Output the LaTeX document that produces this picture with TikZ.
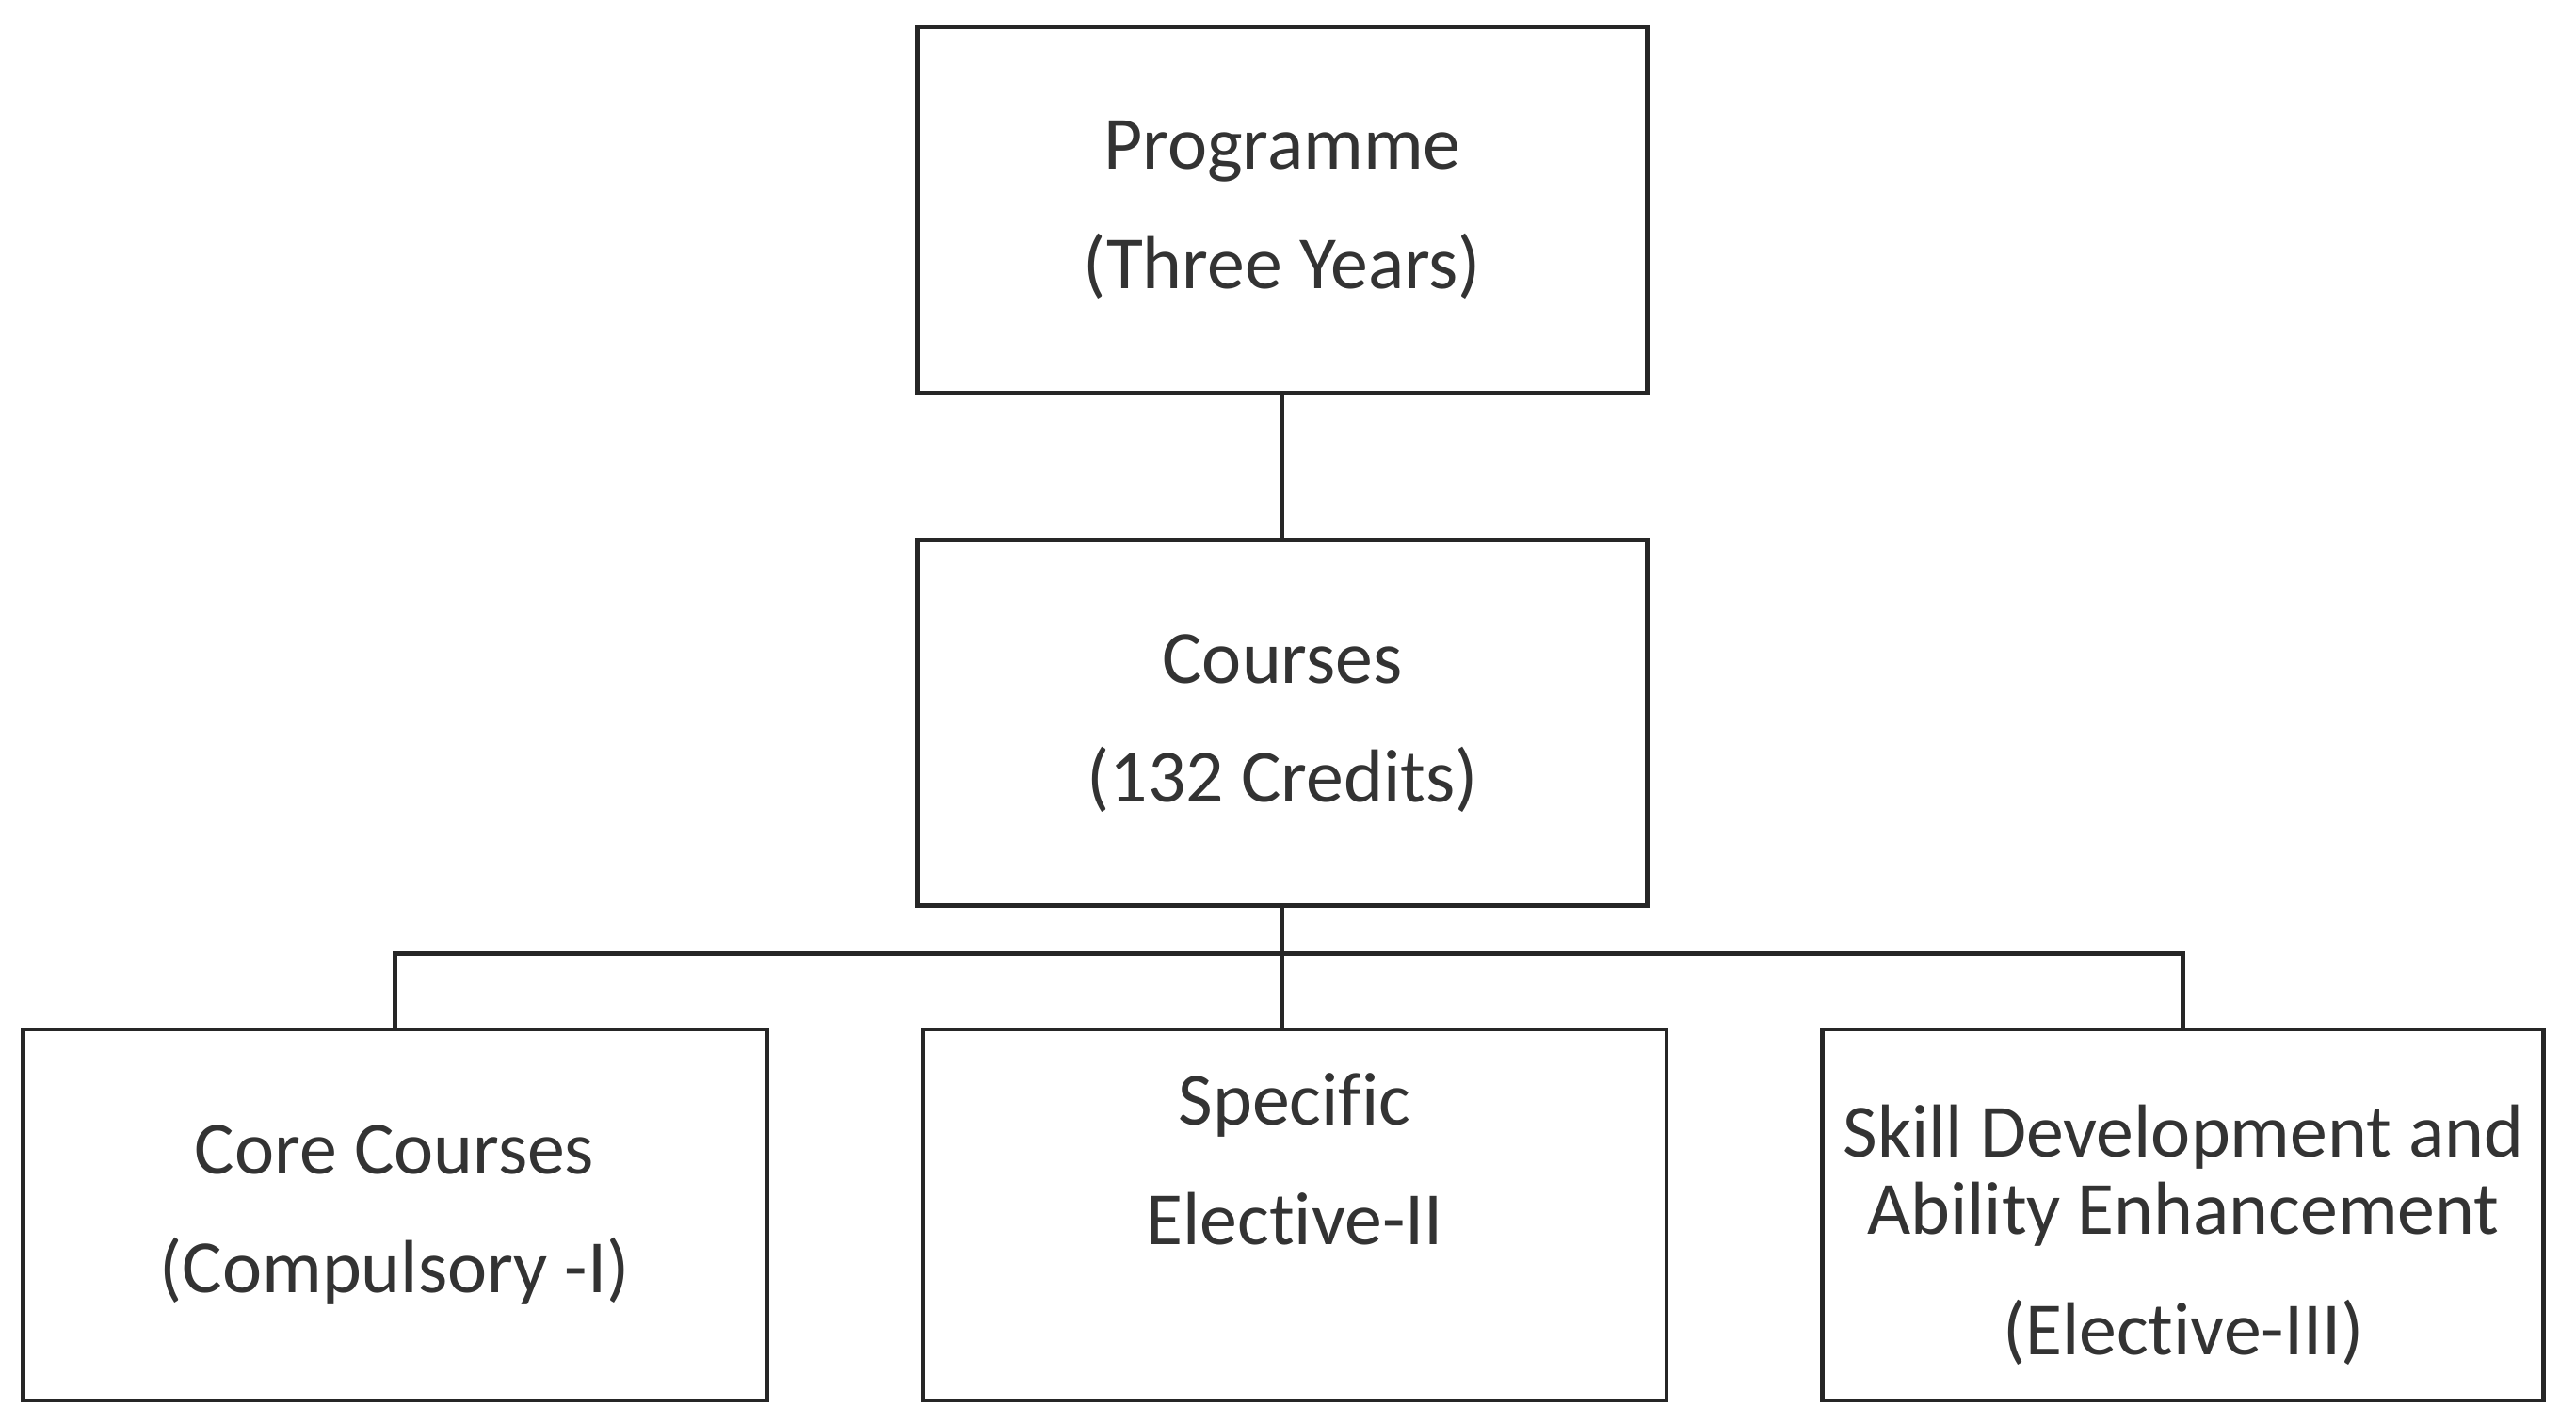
\documentclass[tikz,border=0pt]{standalone}
\usepackage{fontspec}
\setmainfont{Carlito}[Ligatures=NoCommon]
\usetikzlibrary{positioning}
\tikzset{
    topbox/.style={rectangle,draw=black!85,line width=1.4pt,align=center,minimum width=7.75cm,minimum height=3.88cm,inner sep=0pt,text=black!80,font=\fontsize{22.7}{36}\selectfont},
    levelbox/.style={topbox,minimum width=7.9cm,minimum height=3.94cm},
    treeline/.style={draw=black!85,line width=1.4pt}
}

\begin{document}
\begin{tikzpicture}[node distance=1.61cm]
    \useasboundingbox (0,0) rectangle (27.36,-14.95);
    \node[topbox] (prog) at (13.62,-2.23) {Programme\\(Three Years)};
    \node[topbox,below=1.52cm of prog] (courses) {Courses\\(132 Credits)};
    \node[levelbox] (specific) at (13.75,-12.9) {\rule{0pt}{1cm}Specific\\Elective-II\\\strut};
    \node[levelbox,left=of specific] (core) {Core Courses\\(Compulsory -I)};
    \node[levelbox,right=of specific,minimum width=7.66cm,font=\fontsize{22.7}{23.5}\selectfont] (skill) {\rule{0pt}{0.98cm}Skill Development and\\Ability Enhancement\\[0.45cm](Elective-III)};
    \draw[treeline] (prog) -- (courses);
    \draw[treeline] (courses.south) -- ++(0,-0.48) coordinate (fork);
    \draw[treeline] (core.north) |- (fork) -| (skill.north);
    \draw[treeline] (fork) -- (fork |- specific.north);
\end{tikzpicture}
\end{document}
